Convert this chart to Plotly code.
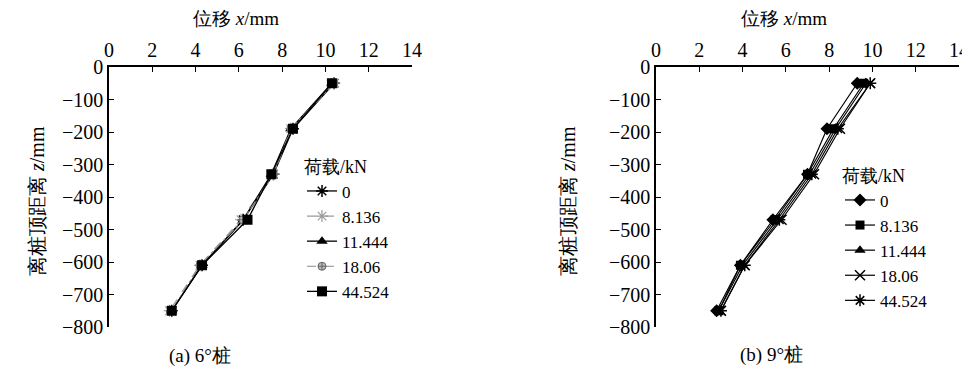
import plotly.graph_objects as go

depth = [-50, -190, -330, -470, -610, -750]
loads = ["0", "8.136", "11.444", "18.06", "44.524"]

# 6° pile displacements (mm)
disp6 = {
    "0":      [10.4, 8.5, 7.6, 6.2, 4.3, 2.9],
    "8.136":  [10.4, 8.4, 7.6, 6.1, 4.2, 2.8],
    "11.444": [10.3, 8.4, 7.5, 6.2, 4.3, 2.9],
    "18.06":  [10.4, 8.4, 7.6, 6.2, 4.2, 2.9],
    "44.524": [10.3, 8.5, 7.5, 6.4, 4.3, 2.9],
}
# 9° pile displacements (mm)
disp9 = {
    "0":      [9.3, 7.9, 7.0, 5.4, 3.9, 2.8],
    "8.136":  [9.6, 8.2, 7.0, 5.5, 3.9, 2.9],
    "11.444": [9.7, 8.3, 7.1, 5.6, 4.0, 2.9],
    "18.06":  [9.9, 8.5, 7.3, 5.8, 4.1, 3.0],
    "44.524": [9.9, 8.4, 7.2, 5.7, 4.1, 3.0],
}

x_ticks = [0, 2, 4, 6, 8, 10, 12, 14]
y_ticks = [0, -100, -200, -300, -400, -500, -600, -700, -800]
y_tick_text = ["0"] + ["\u2212" + str(-v) for v in y_ticks[1:]]

FONT = "Liberation Serif, Times New Roman, serif"

style6 = {
    "0":      dict(line=dict(color="black", width=1.3), marker=dict(symbol="asterisk-open", size=10, color="black", line=dict(color="black", width=1.5))),
    "8.136":  dict(line=dict(color="#9a9a9a", width=1.2, dash="dash"), marker=dict(symbol="asterisk-open", size=10, color="#9a9a9a", line=dict(color="#9a9a9a", width=1.2))),
    "11.444": dict(line=dict(color="black", width=1.3), marker=dict(symbol="triangle-up", size=10, color="black")),
    "18.06":  dict(line=dict(color="#8a8a8a", width=1.2, dash="dashdot"), marker=dict(symbol="circle-cross", size=8, color="#bbbbbb", line=dict(color="#666666", width=1))),
    "44.524": dict(line=dict(color="black", width=1.3), marker=dict(symbol="square", size=10, color="black")),
}
style9 = {
    "0":      dict(line=dict(color="black", width=1.2), marker=dict(symbol="diamond", size=10, color="black")),
    "8.136":  dict(line=dict(color="black", width=1.2), marker=dict(symbol="square", size=9, color="black")),
    "11.444": dict(line=dict(color="black", width=1.2), marker=dict(symbol="triangle-up", size=10, color="black")),
    "18.06":  dict(line=dict(color="black", width=1.2), marker=dict(symbol="x-thin-open", size=10, color="black", line=dict(color="black", width=1.5))),
    "44.524": dict(line=dict(color="black", width=1.2), marker=dict(symbol="asterisk-open", size=10, color="black", line=dict(color="black", width=1.5))),
}

fig = go.Figure()
for ld in loads:
    fig.add_trace(go.Scatter(x=disp6[ld], y=depth, mode="lines+markers", name=ld,
                             xaxis="x", yaxis="y", legend="legend", **style6[ld]))
for ld in loads:
    fig.add_trace(go.Scatter(x=disp9[ld], y=depth, mode="lines+markers", name=ld,
                             xaxis="x2", yaxis="y2", legend="legend2", **style9[ld]))

# page body has an 8px margin, so figure coordinates = reference pixels - 8
OFF = 8.0
W = 962.0
H = 363.0


def px(v):
    return (v - OFF) / W


def py(v):
    return 1 - (v - OFF) / H


ydom = [py(327), py(67)]

axis_common = dict(range=[0, 14], tickvals=x_ticks, ticks="inside", ticklen=5, tickwidth=1.2,
                   tickcolor="black", showline=True, linecolor="black", linewidth=1.5,
                   showgrid=False, zeroline=False, side="top",
                   tickfont=dict(family=FONT, size=20, color="black"))
yaxis_common = dict(range=[-800, 0], tickvals=y_ticks, ticktext=y_tick_text, ticks="inside",
                    ticklen=5, tickwidth=1.2, tickcolor="black", showline=True,
                    linecolor="black", linewidth=1.5, showgrid=False, zeroline=False,
                    tickfont=dict(family=FONT, size=20, color="black"))

legend_common = dict(font=dict(family=FONT, size=17, color="black"), bgcolor="rgba(0,0,0,0)",
                     tracegroupgap=0, xanchor="left", yanchor="top", itemwidth=30,
                     title=dict(text="荷载/kN", font=dict(family=FONT, size=18, color="black")))

fig.update_layout(
    width=int(W), height=int(H),
    margin=dict(l=0, r=0, t=0, b=0, autoexpand=False),
    paper_bgcolor="white", plot_bgcolor="white",
    font=dict(family=FONT, size=20, color="black"),
    xaxis=dict(domain=[px(109), px(412)], anchor="y", **axis_common),
    yaxis=dict(domain=ydom, anchor="x", **yaxis_common),
    xaxis2=dict(domain=[px(656), px(959)], anchor="y2", **axis_common),
    yaxis2=dict(domain=ydom, anchor="x2", **yaxis_common),
    legend=dict(x=px(302), y=py(150), **legend_common),
    legend2=dict(x=px(840), y=py(159), **legend_common),
    showlegend=True,
)

ann = [
    dict(text="位移 <i>x</i>/mm", x=px(236), y=py(18)),
    dict(text="位移 <i>x</i>/mm", x=px(784), y=py(18)),
    dict(text="(a) 6°桩", x=px(200), y=py(356)),
    dict(text="(b) 9°桩", x=px(771), y=py(355)),
]
for a in ann:
    fig.add_annotation(xref="paper", yref="paper", showarrow=False, xanchor="center", yanchor="middle",
                       font=dict(family=FONT, size=19, color="black"), **a)
for xc in (37, 568):
    fig.add_annotation(text="离桩顶距离 <i>z</i>/mm", xref="paper", yref="paper", x=px(xc), y=py(201),
                       textangle=-90, showarrow=False, xanchor="center", yanchor="middle",
                       font=dict(family=FONT, size=20, color="black"))

fig.write_html("out.html")
